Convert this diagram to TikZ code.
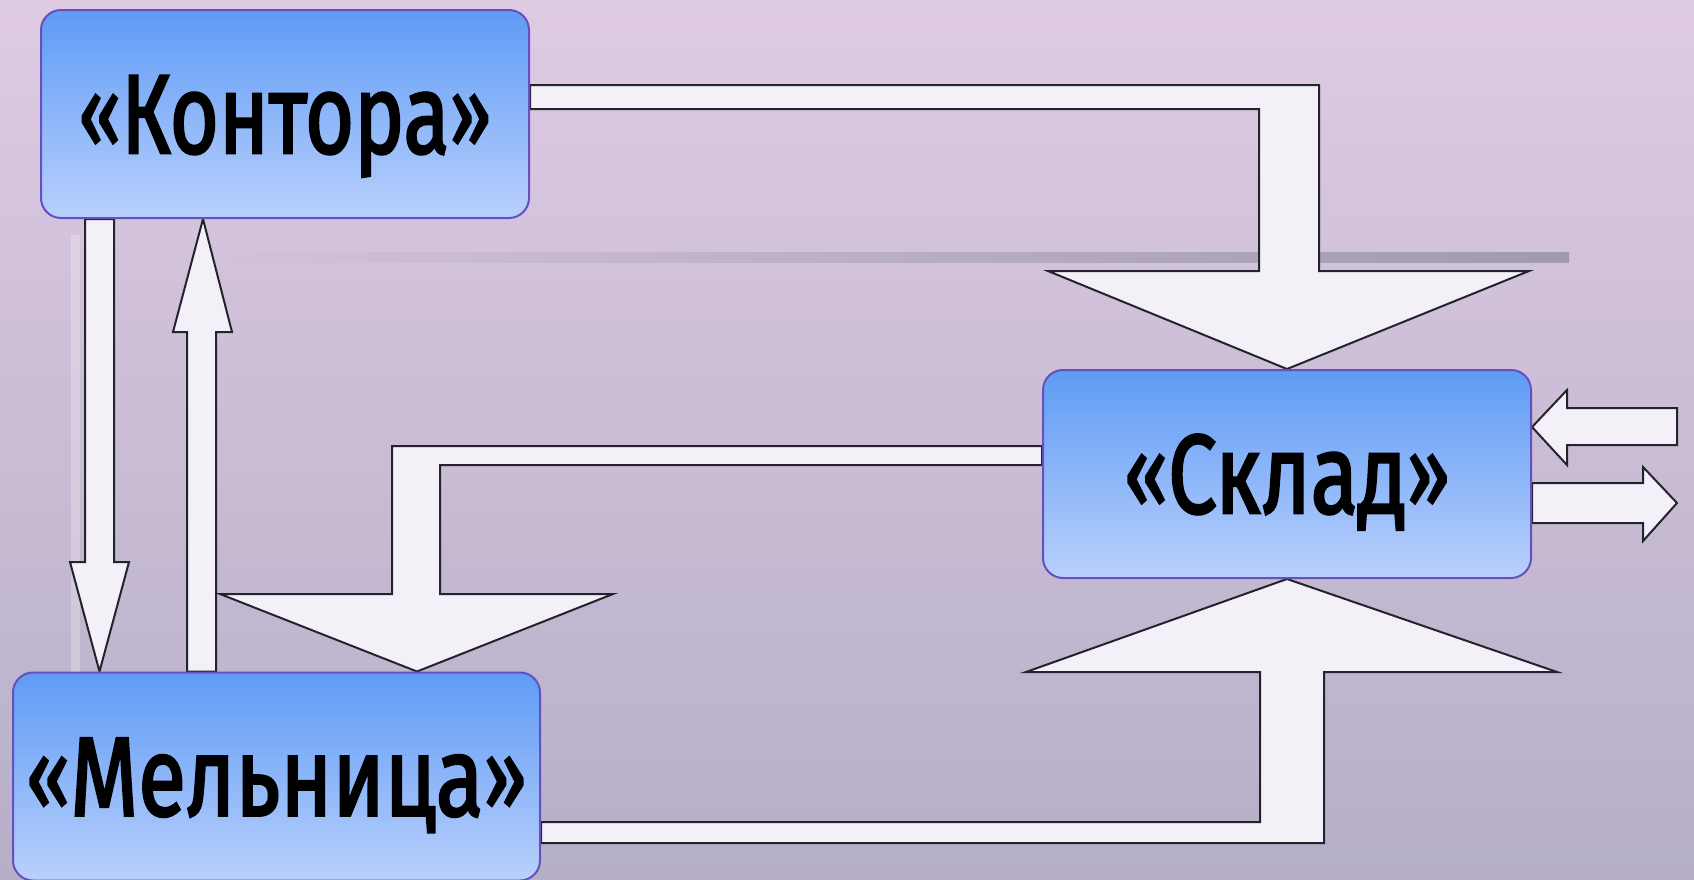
\documentclass[tikz,border=0pt]{standalone}
\usepackage{fontspec}
\setmainfont{Fira Sans}
\newfontfamily\boxfont{Fira Sans}[FakeBold=2.5]
\usepackage{graphicx}
\newcommand{\myLQ}{\raisebox{0.05em}{\scalebox{0.88}{«}}}
\newcommand{\myRQ}{\raisebox{0.05em}{\scalebox{0.88}{»}}}
\definecolor{bgtop}{RGB}{222,202,227}
\definecolor{bgbot}{RGB}{182,175,200}
\definecolor{boxtop}{RGB}{95,155,245}
\definecolor{boxbot}{RGB}{185,208,252}
\definecolor{boxline}{RGB}{100,80,190}
\definecolor{arrfill}{RGB}{243,241,247}
\definecolor{arrline}{RGB}{35,35,45}
\definecolor{barcol}{RGB}{160,155,172}
\pgfdeclarelayer{back}
\pgfdeclarelayer{arrows}
\pgfsetlayers{back,arrows,main}
\begin{document}
\begin{tikzpicture}[x=1pt,y=-1pt,
  block/.style={draw=boxline, line width=2pt, rounded corners=20pt,
    top color=boxtop, bottom color=boxbot, minimum width=#1,
    minimum height=208pt, inner sep=0pt, text height=78pt, text depth=0pt,
    font=\boxfont\fontsize{112pt}{130pt}\selectfont},
  barrow/.style={draw=arrline, fill=arrfill, line width=2pt, line join=miter}]
\useasboundingbox (0,0) rectangle (1694,879);
\begin{pgfonlayer}{back}
\shade[top color=bgtop, bottom color=bgbot] (0,0) rectangle (1694,879);
\shade[left color=bgtop!71!bgbot, right color=barcol] (205,252) rectangle (1569,262);
\fill[white, opacity=0.25] (71,235) rectangle (80,673);
\end{pgfonlayer}

\node[block=488pt] (kontora) at (285,114) {\resizebox{413pt}{\height}{\myLQ Контора\myRQ}};
\node[block=488pt] (sklad) at (1287,474) {\resizebox{326pt}{\height}{\myLQ Склад\myRQ}};
\node[block=527pt] (melnitsa) at (276.5,776.5) {\resizebox{501pt}{\height}{\myLQ Мельница\myRQ}};

\begin{pgfonlayer}{arrows}
% Kontora -> Sklad
\draw[barrow] (kontora.east |- 0,85) -- (1319,85) -- (1319,271) -- (1529,271)
  -- (sklad.north) -- (1048,271) -- (1259,271) -- (1259,109)
  -- (kontora.east |- 0,109) -- cycle;
% Kontora -> Melnitsa
\draw[barrow] (85,0 |- kontora.south) -- (85,562) -- (70,562)
  -- (99.5,0 |- melnitsa.north) -- (129,562) -- (114,562)
  -- (114,0 |- kontora.south) -- cycle;
% Melnitsa -> Kontora
\draw[barrow] (187,0 |- melnitsa.north) -- (187,332) -- (173,332)
  -- (203,0 |- kontora.south) -- (232,332) -- (216,332)
  -- (216,0 |- melnitsa.north) -- cycle;
% Sklad -> Melnitsa
\draw[barrow] (sklad.west |- 0,446) -- (392,446) -- (392,594) -- (220,594)
  -- (417,0 |- melnitsa.north) -- (613,594) -- (440,594) -- (440,465)
  -- (sklad.west |- 0,465) -- cycle;
% Melnitsa -> Sklad
\draw[barrow] (melnitsa.east |- 0,843) -- (1324,843) -- (1324,672) -- (1557,672)
  -- (sklad.south) -- (1026,672) -- (1260,672) -- (1260,822)
  -- (melnitsa.east |- 0,822) -- cycle;
% into Sklad
\coordinate (inR) at (1677,427);
\draw[barrow] (inR |- 0,408) -- (1567,408) -- (1567,390) -- (sklad.east |- 0,427)
  -- (1567,465) -- (1567,445) -- (inR |- 0,445) -- cycle;
% out of Sklad
\coordinate (outR) at (1677,503);
\draw[barrow] (sklad.east |- 0,483) -- (1643,483) -- (1643,467) -- (outR)
  -- (1643,541) -- (1643,523) -- (sklad.east |- 0,523) -- cycle;
\end{pgfonlayer}
\end{tikzpicture}
\end{document}
